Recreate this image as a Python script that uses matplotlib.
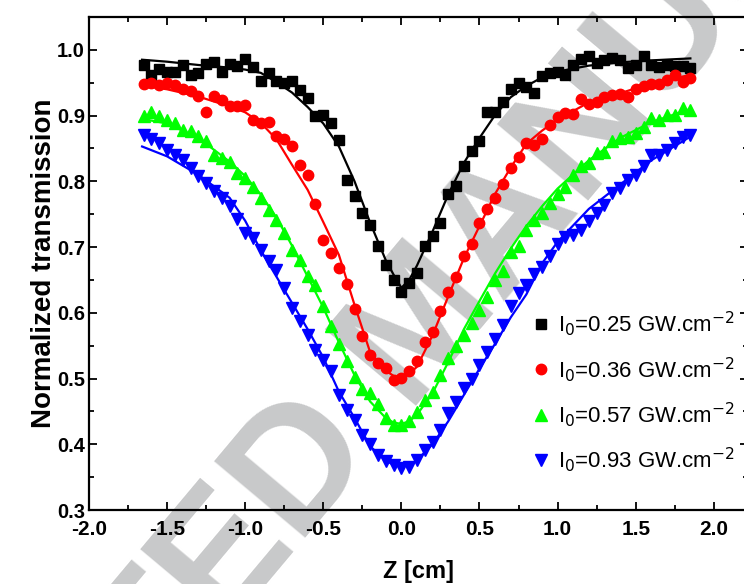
import matplotlib
matplotlib.use("Agg")
import matplotlib.pyplot as plt
from matplotlib.ticker import MultipleLocator, FormatStrFormatter

plt.rcParams["font.family"] = ["Liberation Sans", "DejaVu Sans"]
plt.rcParams["axes.unicode_minus"] = False

# ── Data ─────────────────────────────────────────────────────────────────────
z = [-1.65, -1.60, -1.55, -1.50, -1.45, -1.40, -1.35, -1.30, -1.25, -1.20,
     -1.15, -1.10, -1.05, -1.00, -0.95, -0.90, -0.85, -0.80, -0.75, -0.70,
     -0.65, -0.60, -0.55, -0.50, -0.45, -0.40, -0.35, -0.30, -0.25, -0.20,
     -0.15, -0.10, -0.05, 0.00, 0.05, 0.10, 0.15, 0.20, 0.25, 0.30,
     0.35, 0.40, 0.45, 0.50, 0.55, 0.60, 0.65, 0.70, 0.75, 0.80,
     0.85, 0.90, 0.95, 1.00, 1.05, 1.10, 1.15, 1.20, 1.25, 1.30,
     1.35, 1.40, 1.45, 1.50, 1.55, 1.60, 1.65, 1.70, 1.75, 1.80, 1.85]

t_025 = [0.977, 0.962, 0.971, 0.967, 0.967, 0.977, 0.962, 0.965, 0.979, 0.981,
         0.966, 0.979, 0.975, 0.986, 0.974, 0.953, 0.965, 0.953, 0.949, 0.952,
         0.939, 0.927, 0.900, 0.901, 0.889, 0.863, 0.802, 0.777, 0.752, 0.734,
         0.701, 0.672, 0.650, 0.631, 0.645, 0.661, 0.702, 0.717, 0.737, 0.781,
         0.793, 0.823, 0.846, 0.861, 0.905, 0.905, 0.921, 0.940, 0.950, 0.944,
         0.935, 0.960, 0.965, 0.967, 0.962, 0.977, 0.986, 0.991, 0.980, 0.985,
         0.987, 0.984, 0.972, 0.977, 0.990, 0.977, 0.974, 0.977, 0.975, 0.975, 0.972]

t_036 = [0.948, 0.950, 0.947, 0.950, 0.947, 0.940, 0.937, 0.930, 0.906, 0.930,
         0.923, 0.914, 0.914, 0.916, 0.894, 0.888, 0.890, 0.869, 0.865, 0.853,
         0.825, 0.810, 0.765, 0.711, 0.691, 0.668, 0.644, 0.606, 0.565, 0.536,
         0.523, 0.516, 0.498, 0.501, 0.512, 0.526, 0.556, 0.571, 0.602, 0.631,
         0.654, 0.686, 0.705, 0.736, 0.758, 0.774, 0.796, 0.820, 0.837, 0.859,
         0.856, 0.864, 0.886, 0.898, 0.904, 0.903, 0.925, 0.918, 0.921, 0.929,
         0.932, 0.933, 0.928, 0.940, 0.945, 0.948, 0.948, 0.954, 0.962, 0.951, 0.957]

t_057 = [0.899, 0.905, 0.900, 0.894, 0.889, 0.878, 0.876, 0.869, 0.861, 0.840,
         0.835, 0.830, 0.812, 0.805, 0.792, 0.775, 0.757, 0.741, 0.721, 0.696,
         0.681, 0.656, 0.642, 0.611, 0.580, 0.553, 0.527, 0.503, 0.484, 0.478,
         0.462, 0.440, 0.429, 0.429, 0.435, 0.449, 0.467, 0.480, 0.505, 0.531,
         0.549, 0.566, 0.584, 0.604, 0.624, 0.650, 0.664, 0.692, 0.701, 0.726,
         0.741, 0.752, 0.767, 0.780, 0.792, 0.810, 0.823, 0.828, 0.843, 0.845,
         0.861, 0.866, 0.868, 0.873, 0.883, 0.896, 0.894, 0.901, 0.901, 0.911, 0.909]

t_093 = [0.871, 0.864, 0.858, 0.848, 0.840, 0.832, 0.821, 0.808, 0.797, 0.786,
         0.775, 0.762, 0.743, 0.721, 0.714, 0.696, 0.679, 0.665, 0.637, 0.607,
         0.587, 0.566, 0.544, 0.528, 0.511, 0.475, 0.452, 0.437, 0.414, 0.401,
         0.384, 0.374, 0.368, 0.364, 0.366, 0.376, 0.391, 0.404, 0.422, 0.447,
         0.465, 0.485, 0.500, 0.521, 0.541, 0.560, 0.582, 0.611, 0.630, 0.643,
         0.659, 0.670, 0.686, 0.705, 0.716, 0.718, 0.726, 0.739, 0.752, 0.764,
         0.782, 0.790, 0.802, 0.810, 0.823, 0.840, 0.840, 0.848, 0.858, 0.868, 0.871]

# fitted curves, read at coarser z
z_fit = [-1.66, -1.5, -1.3, -1.1, -1.0, -0.9, -0.8, -0.7, -0.6, -0.5, -0.4,
         -0.3, -0.2, -0.1, -0.05, 0.0, 0.05, 0.1, 0.2, 0.3, 0.4, 0.5, 0.6,
         0.7, 0.8, 0.9, 1.0, 1.2, 1.4, 1.6, 1.85]
fit_025 = [0.985, 0.982, 0.977, 0.973, 0.970, 0.965, 0.951, 0.935, 0.913, 0.888, 0.853,
           0.800, 0.737, 0.680, 0.658, 0.638, 0.650, 0.672, 0.724, 0.780, 0.828, 0.866, 0.901,
           0.928, 0.945, 0.958, 0.967, 0.976, 0.981, 0.984, 0.987]
fit_036 = [0.946, 0.940, 0.929, 0.914, 0.905, 0.889, 0.864, 0.825, 0.787, 0.738, 0.688,
           0.612, 0.540, 0.512, 0.504, 0.501, 0.507, 0.518, 0.566, 0.625, 0.683, 0.732, 0.781,
           0.821, 0.857, 0.877, 0.894, 0.920, 0.934, 0.949, 0.962]
fit_057 = [0.895, 0.888, 0.866, 0.830, 0.808, 0.780, 0.745, 0.702, 0.655, 0.608, 0.555,
           0.505, 0.465, 0.440, 0.433, 0.431, 0.435, 0.445, 0.478, 0.525, 0.575, 0.618, 0.660,
           0.698, 0.732, 0.762, 0.789, 0.832, 0.866, 0.890, 0.910]
fit_093 = [0.853, 0.838, 0.810, 0.775, 0.740, 0.695, 0.655, 0.615, 0.575, 0.532, 0.480,
           0.440, 0.397, 0.375, 0.369, 0.367, 0.368, 0.376, 0.400, 0.435, 0.475, 0.515, 0.553,
           0.593, 0.628, 0.675, 0.708, 0.758, 0.795, 0.832, 0.868]

labels = ["I$_0$=0.25 GW.cm$^{-2}$", "I$_0$=0.36 GW.cm$^{-2}$",
          "I$_0$=0.57 GW.cm$^{-2}$", "I$_0$=0.93 GW.cm$^{-2}$"]
colors = ["#000000", "#ff0000", "#00ff00", "#0000ff"]
markers = ["s", "o", "^", "v"]
msizes = [7, 7.5, 8, 8]

series = [t_025, t_036, t_057, t_093]
fits = [fit_025, fit_036, fit_057, fit_093]

# ── Figure ───────────────────────────────────────────────────────────────────
fig = plt.figure(figsize=(7.44, 5.84), dpi=100)
ax = fig.add_axes([0.1196, 0.1267, 0.886, 0.8442])
ax.set_facecolor("none")

# watermark behind everything
fig.text(0.57, 0.44, "ACCEPTED MANUSCRIPT", fontsize=124, fontweight="bold",
         color="#c8c9ca", rotation=50, ha="center", va="center", zorder=-10)

for vals, fv, c, m, ms, lab in zip(series, fits, colors, markers, msizes, labels):
    ax.plot(z_fit, fv, "-", color=c, lw=1.6, zorder=3)
    ax.plot(z, vals, m, color=c, ms=ms, mec=c, ls="none", label=lab, zorder=4)

ax.set_xlim(-2.0, 2.22)
ax.set_ylim(0.3, 1.05)
ax.xaxis.set_major_locator(MultipleLocator(0.5))
ax.xaxis.set_minor_locator(MultipleLocator(0.25))
ax.yaxis.set_major_locator(MultipleLocator(0.1))
ax.yaxis.set_minor_locator(MultipleLocator(0.05))
ax.xaxis.set_major_formatter(FormatStrFormatter("%.1f"))
ax.yaxis.set_major_formatter(FormatStrFormatter("%.1f"))

ax.tick_params(which="both", direction="in", top=True, right=True, width=1.3)
ax.tick_params(which="major", length=6)
ax.tick_params(axis="x", which="major", pad=7, labelsize=15)
ax.tick_params(axis="y", which="major", pad=3, labelsize=14.5)
ax.tick_params(which="minor", length=3.5)
for lbl in ax.get_xticklabels() + ax.get_yticklabels():
    lbl.set_fontweight("bold")
for sp in ax.spines.values():
    sp.set_linewidth(1.6)

ax.set_xlabel("Z [cm]", fontsize=17, fontweight="bold", labelpad=15)
ax.set_ylabel("Normalized transmission", fontsize=20, fontweight="bold", labelpad=0)

ax.legend(loc="lower right", bbox_to_anchor=(1.0, 0.045), frameon=False,
          fontsize=16, handletextpad=0.15, labelspacing=0.75, borderaxespad=0.2,
          handlelength=1.2)

fig.savefig("out.png", dpi=100)
